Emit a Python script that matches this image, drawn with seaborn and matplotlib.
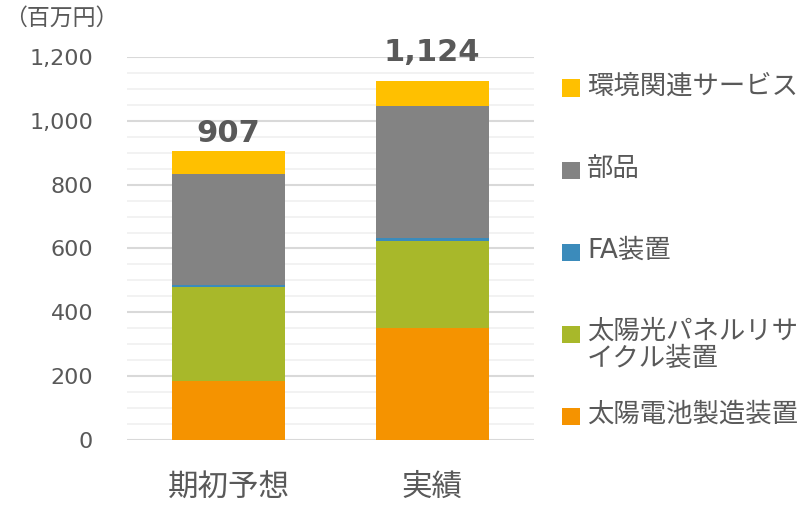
import matplotlib.pyplot as plt
import numpy as np
import seaborn as sns
from matplotlib.patches import Rectangle

# --- DATA ---
CATEGORIES = ["期初予想", "実績"]
SERIES = ["太陽電池製造装置", "太陽光パネルリサイクル装置", "FA装置", "部品", "環境関連サービス"]
LEGEND_TEXT = ["太陽電池製造装置", "太陽光パネルリサ\nイクル装置", "FA装置", "部品", "環境関連サービス"]
SOLAR_CELL = [186, 350]
PANEL_RECYCLE = [293, 275]
FA_EQUIP = [6, 7]
PARTS = [348, 416]
ENV_SERVICE = [74, 76]
UNIT_LABEL = "（百万円）"
Y_TICKS = [0, 200, 400, 600, 800, 1000, 1200]

# --- STYLE ---
COLORS = ["#F59300", "#A8B82A", "#3B8BBB", "#838383", "#FFC000"]
TEXT_COLOR = "#595959"
LABEL_PAD_PX = [9, 20]  # gap between bar top and total label

sns.set_style("white")
plt.rcParams["font.family"] = ["DejaVu Sans", "Noto Sans CJK JP"]

fig = plt.figure(figsize=(8.02, 5.05), dpi=100)
ax = fig.add_axes([126.5 / 802, 65 / 505, (534 - 126.5) / 802, (440 - 57) / 505])

layers = [SOLAR_CELL, PANEL_RECYCLE, FA_EQUIP, PARTS, ENV_SERVICE]
bottom = np.zeros(len(CATEGORIES))
for vals, col in zip(layers, COLORS):
    sns.barplot(x=CATEGORIES, y=vals, bottom=bottom, color=col, width=0.555,
                saturation=1, linewidth=0, ax=ax)
    bottom = bottom + np.array(vals)

totals = bottom
for i, total in enumerate(totals):
    ax.annotate(f"{int(total):,}", xy=(i, total), xytext=(0, LABEL_PAD_PX[i] * 0.72),
                textcoords="offset points", ha="center", va="baseline",
                fontsize=22, fontweight="bold", color=TEXT_COLOR, annotation_clip=False)

ax.set_ylim(0, 1200)
ax.set_xlim(-0.5, 1.5)
ax.set_yticks(Y_TICKS)
ax.set_yticklabels([f"{v:,}" for v in Y_TICKS])
ax.set_yticks(np.arange(0, 1201, 50), minor=True)
ax.grid(axis="y", which="major", color="#D9D9D9", linewidth=1.5)
ax.grid(axis="y", which="minor", color="#F0F0F0", linewidth=1.2)
ax.set_axisbelow(True)
for s in ax.spines.values():
    s.set_visible(False)
ax.tick_params(axis="y", which="both", length=0, pad=24, labelsize=16, labelcolor=TEXT_COLOR)
ax.tick_params(axis="x", length=0, pad=24, labelsize=22, labelcolor=TEXT_COLOR)
ax.set_xlabel("")
ax.set_ylabel("")

fig.text(4 / 802, 1 - 18 / 505, UNIT_LABEL, ha="left", va="center",
         fontsize=16.5, color=TEXT_COLOR)

# --- LEGEND (drawn by hand, Excel-style spacing) ---
row_top = 88
row_step = 82
for k in range(len(SERIES)):
    j = len(SERIES) - 1 - k
    yc = row_top + k * row_step
    fig.patches.append(Rectangle((562 / 802, 1 - (yc + 8.5) / 505), 18 / 802, 17 / 505,
                                 transform=fig.transFigure, facecolor=COLORS[j],
                                 edgecolor="none"))
    nlines = LEGEND_TEXT[j].count("\n") + 1
    fig.text(587 / 802, 1 - (yc - 1 + (nlines - 1) * 12) / 505, LEGEND_TEXT[j],
             ha="left", va="center", fontsize=19, color=TEXT_COLOR, linespacing=1.05)

fig.savefig("out.png", dpi=100)
